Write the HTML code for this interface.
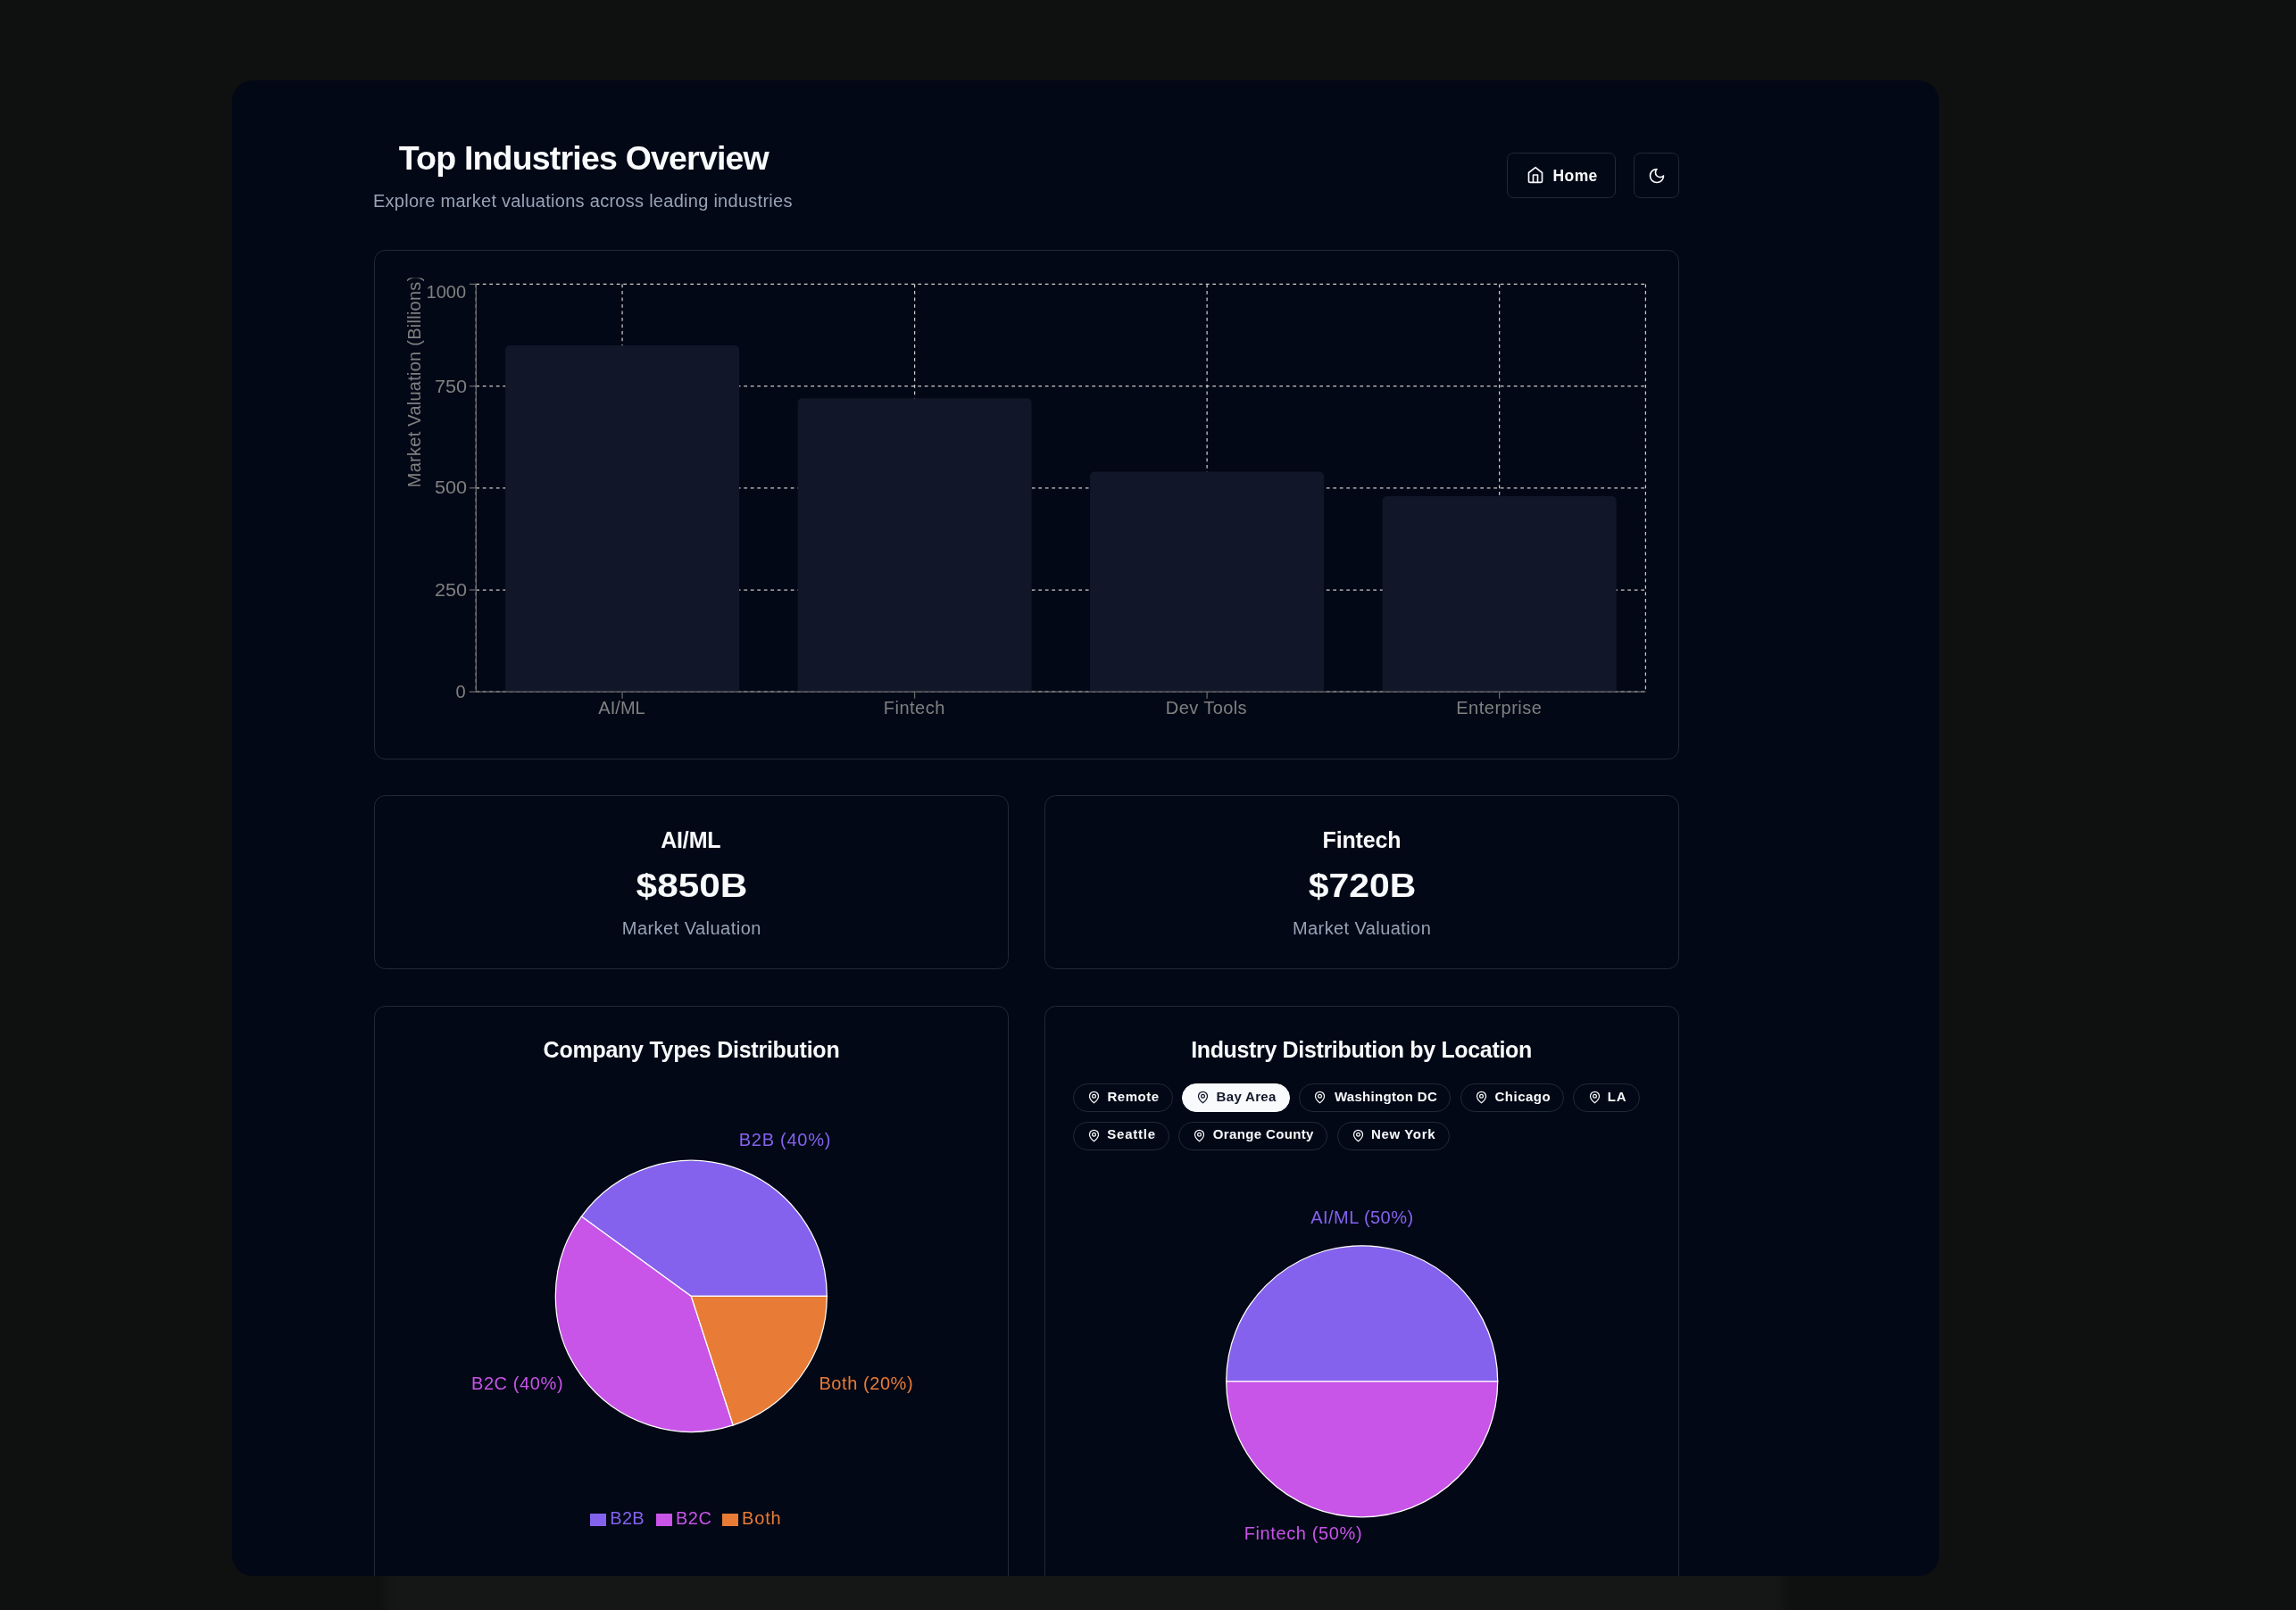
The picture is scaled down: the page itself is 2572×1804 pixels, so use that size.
<!DOCTYPE html>
<html><head><meta charset="utf-8"><title>Top Industries Overview</title>
<style>
html,body{margin:0;padding:0}
body{width:2572px;height:1804px;overflow:hidden;position:relative;background:#0f1110;font-family:"Liberation Sans",sans-serif}
#win{position:absolute;left:260px;top:90px;width:1912px;height:1676px;border-radius:23px;background:#030816;overflow:hidden}
#stage{position:absolute;left:-260px;top:-90px;width:2572px;height:1804px;will-change:transform}
.t{position:absolute;white-space:nowrap;line-height:1}
.card{position:absolute;box-sizing:border-box;border:1.25px solid #20293a;border-radius:12.5px;background:#030816}
.btn{position:absolute;box-sizing:border-box;border:1.25px solid #20293a;border-radius:7.5px;background:#030816}
.chip{position:absolute;box-sizing:border-box;height:32px;border:1.25px solid #20293a;border-radius:16px;background:#030816}
.chip.sel{background:#f8fafc;border-color:#f8fafc}
svg{position:absolute;overflow:visible}
#glow{position:absolute;left:432px;top:1750px;width:1566px;height:80px;background:#151716;filter:blur(5px)}
</style></head><body>
<div id="glow"></div>
<div id="win"><div id="stage">

<div class="t" id="title" style="left:446.80px;top:158.86px;font-size:37.5px;font-weight:700;color:#f8fafc;letter-spacing:-0.809px;">Top Industries Overview</div>
<div class="t" id="sub" style="left:417.90px;top:215.17px;font-size:20px;font-weight:400;color:#97a3b6;letter-spacing:0.276px;">Explore market valuations across leading industries</div>
<div class="btn" style="left:1688px;top:171px;width:122px;height:51px"></div>
<div class="btn" style="left:1830px;top:171px;width:51px;height:51px"></div>
<svg style="left:1709.7px;top:186.2px" width="20" height="20" viewBox="0 0 24 24" fill="none" stroke="#f8fafc" stroke-width="2" stroke-linecap="round" stroke-linejoin="round"><path d="m3 9 9-7 9 7v11a2 2 0 0 1-2 2H5a2 2 0 0 1-2-2z"/><polyline points="9 22 9 12 15 12 15 22"/></svg>
<div class="t" id="home" style="left:1739.50px;top:189.49px;font-size:17.5px;font-weight:700;color:#f8fafc;letter-spacing:0.400px;">Home</div>
<svg style="left:1846px;top:187px" width="20" height="20" viewBox="0 0 24 24" fill="none" stroke="#f8fafc" stroke-width="2" stroke-linecap="round" stroke-linejoin="round"><path d="M12 3a6 6 0 0 0 9 9 9 9 0 1 1-9-9Z"/></svg>
<div class="card" style="left:419px;top:280px;width:1462px;height:571px"></div>
<svg style="left:0;top:0" width="2572" height="1804" viewBox="0 0 2572 1804"><g stroke="#cccccc" stroke-width="1.25" stroke-dasharray="3.75 3.75" fill="none"><line x1="533.3" y1="318.40" x2="1843.4" y2="318.40"/><line x1="533.3" y1="432.60" x2="1843.4" y2="432.60"/><line x1="533.3" y1="546.80" x2="1843.4" y2="546.80"/><line x1="533.3" y1="661.00" x2="1843.4" y2="661.00"/><line x1="533.3" y1="775.20" x2="1843.4" y2="775.20"/><line x1="533.30" y1="318.4" x2="533.30" y2="775.2"/><line x1="697.06" y1="318.4" x2="697.06" y2="775.2"/><line x1="1024.59" y1="318.4" x2="1024.59" y2="775.2"/><line x1="1352.11" y1="318.4" x2="1352.11" y2="775.2"/><line x1="1679.64" y1="318.4" x2="1679.64" y2="775.2"/><line x1="1843.40" y1="318.4" x2="1843.40" y2="775.2"/></g><path d="M566.05,775.2 L566.05,391.92 A5,5 0 0 1 571.05,386.92 L823.07,386.92 A5,5 0 0 1 828.07,391.92 L828.07,775.2 Z" fill="#111729"/><path d="M893.58,775.2 L893.58,451.30 A5,5 0 0 1 898.58,446.30 L1150.60,446.30 A5,5 0 0 1 1155.60,451.30 L1155.60,775.2 Z" fill="#111729"/><path d="M1221.10,775.2 L1221.10,533.53 A5,5 0 0 1 1226.10,528.53 L1478.12,528.53 A5,5 0 0 1 1483.12,533.53 L1483.12,775.2 Z" fill="#111729"/><path d="M1548.63,775.2 L1548.63,560.94 A5,5 0 0 1 1553.63,555.94 L1805.65,555.94 A5,5 0 0 1 1810.65,560.94 L1810.65,775.2 Z" fill="#111729"/><g stroke="#6a6a6a" stroke-width="1.25" fill="none"><line x1="533.3" y1="775.2" x2="1843.4" y2="775.2"/><line x1="533.3" y1="318.4" x2="533.3" y2="775.2"/><line x1="525.8" y1="318.40" x2="533.3" y2="318.40"/><line x1="525.8" y1="432.60" x2="533.3" y2="432.60"/><line x1="525.8" y1="546.80" x2="533.3" y2="546.80"/><line x1="525.8" y1="661.00" x2="533.3" y2="661.00"/><line x1="525.8" y1="775.20" x2="533.3" y2="775.20"/><line x1="697.06" y1="775.2" x2="697.06" y2="782.7"/><line x1="1024.59" y1="775.2" x2="1024.59" y2="782.7"/><line x1="1352.11" y1="775.2" x2="1352.11" y2="782.7"/><line x1="1679.64" y1="775.2" x2="1679.64" y2="782.7"/></g></svg>
<div class="t" id="yt0" style="left:522.10px;transform-origin:100% 50%;transform:translateX(-100%);top:316.67px;font-size:20px;font-weight:400;color:#808080;letter-spacing:0.000px;">1000</div>
<div class="t" id="yt1" style="left:522.50px;transform-origin:100% 50%;transform:translateX(-100%) scaleX(1.08);top:422.67px;font-size:20px;font-weight:400;color:#808080;letter-spacing:0.000px;">750</div>
<div class="t" id="yt2" style="left:522.50px;transform-origin:100% 50%;transform:translateX(-100%) scaleX(1.08);top:536.27px;font-size:20px;font-weight:400;color:#808080;letter-spacing:0.000px;">500</div>
<div class="t" id="yt3" style="left:522.50px;transform-origin:100% 50%;transform:translateX(-100%) scaleX(1.08);top:650.87px;font-size:20px;font-weight:400;color:#808080;letter-spacing:0.000px;">250</div>
<div class="t" id="yt4" style="left:521.50px;transform-origin:100% 50%;transform:translateX(-100%);top:765.47px;font-size:20px;font-weight:400;color:#808080;letter-spacing:0.000px;">0</div>
<div class="t" id="xt0" style="left:696.56px;transform:translateX(-50%);top:782.67px;font-size:20px;font-weight:400;color:#808080;letter-spacing:0.050px;">AI/ML</div>
<div class="t" id="xt1" style="left:1024.29px;transform:translateX(-50%);top:782.67px;font-size:20px;font-weight:400;color:#808080;letter-spacing:0.500px;">Fintech</div>
<div class="t" id="xt2" style="left:1351.41px;transform:translateX(-50%);top:782.67px;font-size:20px;font-weight:400;color:#808080;letter-spacing:0.426px;">Dev Tools</div>
<div class="t" id="xt3" style="left:1679.34px;transform:translateX(-50%);top:782.67px;font-size:20px;font-weight:400;color:#808080;letter-spacing:0.511px;">Enterprise</div>
<svg style="left:0;top:0" width="2572" height="1804"><defs><clipPath id="ycl"><rect x="440" y="311.5" width="60" height="300"/></clipPath></defs><g clip-path="url(#ycl)"><text id="ylab" transform="translate(470.7,546.2) rotate(-90)" font-size="20" fill="#808080" letter-spacing="0.256" font-family="Liberation Sans, sans-serif">Market Valuation (Billions)</text></g></svg>
<div class="card" style="left:419px;top:891px;width:711px;height:195px"></div>
<div class="card" style="left:1170px;top:891px;width:711px;height:195px"></div>
<div class="t" id="s1a" style="left:773.80px;transform:translateX(-50%);top:929.24px;font-size:25px;font-weight:700;color:#f8fafc;letter-spacing:-0.150px;">AI/ML</div>
<div class="t" id="s1b" style="left:775.20px;transform:translateX(-50%) scaleX(1.13);top:973.56px;font-size:37.5px;font-weight:700;color:#f8fafc;letter-spacing:0.000px;">$850B</div>
<div class="t" id="s1c" style="left:774.80px;transform:translateX(-50%);top:1030.47px;font-size:20px;font-weight:400;color:#97a3b6;letter-spacing:0.467px;">Market Valuation</div>
<div class="t" id="s2a" style="left:1525.40px;transform:translateX(-50%);top:929.24px;font-size:25px;font-weight:700;color:#f8fafc;letter-spacing:-0.167px;">Fintech</div>
<div class="t" id="s2b" style="left:1526.45px;transform:translateX(-50%) scaleX(1.092);top:973.56px;font-size:37.5px;font-weight:700;color:#f8fafc;letter-spacing:0.000px;">$720B</div>
<div class="t" id="s2c" style="left:1525.60px;transform:translateX(-50%);top:1030.47px;font-size:20px;font-weight:400;color:#97a3b6;letter-spacing:0.413px;">Market Valuation</div>
<div class="card" style="left:419px;top:1127px;width:711px;height:773px"></div>
<div class="card" style="left:1170px;top:1127px;width:711px;height:773px"></div>
<div class="t" id="c1t" style="left:774.50px;transform:translateX(-50%);top:1164.04px;font-size:25px;font-weight:700;color:#f8fafc;letter-spacing:-0.256px;">Company Types Distribution</div>
<div class="t" id="c2t" style="left:1525.00px;transform:translateX(-50%);top:1164.04px;font-size:25px;font-weight:700;color:#f8fafc;letter-spacing:-0.344px;">Industry Distribution by Location</div>
<svg style="left:0;top:0" width="2572" height="1804"><g stroke="#ffffff" stroke-width="1.25" stroke-linejoin="miter"><path d="M926.30,1452.40 A152,152 0 0 0 651.33,1363.06 L774.3,1452.4 Z" fill="#8462ed"/><path d="M651.33,1363.06 A152,152 0 0 0 821.27,1596.96 L774.3,1452.4 Z" fill="#c854e8"/><path d="M821.27,1596.96 A152,152 0 0 0 926.30,1452.40 L774.3,1452.4 Z" fill="#e87b35"/></g></svg>
<div class="t" id="p1a" style="left:827.80px;top:1267.27px;font-size:20px;font-weight:400;color:#8462ed;letter-spacing:0.724px;">B2B (40%)</div>
<div class="t" id="p1b" style="left:631.20px;transform-origin:100% 50%;transform:translateX(-100%);top:1540.47px;font-size:20px;font-weight:400;color:#c854e8;letter-spacing:0.601px;">B2C (40%)</div>
<div class="t" id="p1c" style="left:917.40px;top:1540.47px;font-size:20px;font-weight:400;color:#e87b35;letter-spacing:0.578px;">Both (20%)</div>
<div style="position:absolute;left:660.9px;top:1696.4px;width:18px;height:13.3px;background:#8462ed"></div>
<div class="t" id="lg0" style="left:683.30px;top:1691.37px;font-size:20px;font-weight:400;color:#8462ed;letter-spacing:0.300px;">B2B</div>
<div style="position:absolute;left:734.6px;top:1696.4px;width:18px;height:13.3px;background:#c854e8"></div>
<div class="t" id="lg1" style="left:757.00px;top:1691.37px;font-size:20px;font-weight:400;color:#c854e8;letter-spacing:0.500px;">B2C</div>
<div style="position:absolute;left:809.1px;top:1696.4px;width:18px;height:13.3px;background:#e87b35"></div>
<div class="t" id="lg2" style="left:831.10px;top:1691.37px;font-size:20px;font-weight:400;color:#e87b35;letter-spacing:0.800px;">Both</div>
<svg style="left:0;top:0" width="2572" height="1804"><g stroke="#ffffff" stroke-width="1.25" stroke-linejoin="miter"><path d="M1677.70,1547.80 A152,152 0 0 0 1373.70,1547.80 L1525.7,1547.8 Z" fill="#8462ed"/><path d="M1373.70,1547.80 A152,152 0 0 0 1677.70,1547.80 L1525.7,1547.8 Z" fill="#c854e8"/></g></svg>
<div class="t" id="p2a" style="left:1525.90px;transform:translateX(-50%);top:1353.67px;font-size:20px;font-weight:400;color:#8462ed;letter-spacing:0.440px;">AI/ML (50%)</div>
<div class="t" id="p2b" style="left:1526.20px;transform-origin:100% 50%;transform:translateX(-100%);top:1708.37px;font-size:20px;font-weight:400;color:#c854e8;letter-spacing:0.617px;">Fintech (50%)</div>
<div class="chip" style="left:1201.8px;top:1214.1px;width:112.1px"></div>
<svg style="left:1218.0px;top:1222.2px" width="15" height="15" viewBox="0 0 24 24" fill="none" stroke="#f8fafc" stroke-width="2" stroke-linecap="round" stroke-linejoin="round"><path d="M20 10c0 6-8 12-8 12s-8-6-8-12a8 8 0 0 1 16 0Z"/><circle cx="12" cy="10" r="3"/></svg>
<div class="t" id="ch0" style="left:1240.40px;top:1220.60px;font-size:15px;font-weight:700;color:#f8fafc;letter-spacing:0.560px;">Remote</div>
<div class="chip sel" style="left:1324.1px;top:1214.1px;width:121.1px"></div>
<svg style="left:1340.3px;top:1222.2px" width="15" height="15" viewBox="0 0 24 24" fill="none" stroke="#111729" stroke-width="2" stroke-linecap="round" stroke-linejoin="round"><path d="M20 10c0 6-8 12-8 12s-8-6-8-12a8 8 0 0 1 16 0Z"/><circle cx="12" cy="10" r="3"/></svg>
<div class="t" id="ch1" style="left:1362.60px;top:1220.60px;font-size:15px;font-weight:700;color:#111729;letter-spacing:0.315px;">Bay Area</div>
<div class="chip" style="left:1455.2px;top:1214.1px;width:170.2px"></div>
<svg style="left:1471.4px;top:1222.2px" width="15" height="15" viewBox="0 0 24 24" fill="none" stroke="#f8fafc" stroke-width="2" stroke-linecap="round" stroke-linejoin="round"><path d="M20 10c0 6-8 12-8 12s-8-6-8-12a8 8 0 0 1 16 0Z"/><circle cx="12" cy="10" r="3"/></svg>
<div class="t" id="ch2" style="left:1494.90px;top:1220.60px;font-size:15px;font-weight:700;color:#f8fafc;letter-spacing:0.316px;">Washington DC</div>
<div class="chip" style="left:1635.7px;top:1214.1px;width:116.4px"></div>
<svg style="left:1651.9px;top:1222.2px" width="15" height="15" viewBox="0 0 24 24" fill="none" stroke="#f8fafc" stroke-width="2" stroke-linecap="round" stroke-linejoin="round"><path d="M20 10c0 6-8 12-8 12s-8-6-8-12a8 8 0 0 1 16 0Z"/><circle cx="12" cy="10" r="3"/></svg>
<div class="t" id="ch3" style="left:1674.50px;top:1220.60px;font-size:15px;font-weight:700;color:#f8fafc;letter-spacing:0.500px;">Chicago</div>
<div class="chip" style="left:1762.4px;top:1214.1px;width:74.4px"></div>
<svg style="left:1778.6px;top:1222.2px" width="15" height="15" viewBox="0 0 24 24" fill="none" stroke="#f8fafc" stroke-width="2" stroke-linecap="round" stroke-linejoin="round"><path d="M20 10c0 6-8 12-8 12s-8-6-8-12a8 8 0 0 1 16 0Z"/><circle cx="12" cy="10" r="3"/></svg>
<div class="t" id="ch4" style="left:1800.70px;top:1220.60px;font-size:15px;font-weight:700;color:#f8fafc;letter-spacing:1.000px;">LA</div>
<div class="chip" style="left:1201.8px;top:1256.5px;width:108.1px"></div>
<svg style="left:1218.0px;top:1264.6px" width="15" height="15" viewBox="0 0 24 24" fill="none" stroke="#f8fafc" stroke-width="2" stroke-linecap="round" stroke-linejoin="round"><path d="M20 10c0 6-8 12-8 12s-8-6-8-12a8 8 0 0 1 16 0Z"/><circle cx="12" cy="10" r="3"/></svg>
<div class="t" id="ch5" style="left:1240.30px;top:1263.00px;font-size:15px;font-weight:700;color:#f8fafc;letter-spacing:0.767px;">Seattle</div>
<div class="chip" style="left:1320.2px;top:1256.5px;width:167.3px"></div>
<svg style="left:1336.4px;top:1264.6px" width="15" height="15" viewBox="0 0 24 24" fill="none" stroke="#f8fafc" stroke-width="2" stroke-linecap="round" stroke-linejoin="round"><path d="M20 10c0 6-8 12-8 12s-8-6-8-12a8 8 0 0 1 16 0Z"/><circle cx="12" cy="10" r="3"/></svg>
<div class="t" id="ch6" style="left:1358.70px;top:1263.00px;font-size:15px;font-weight:700;color:#f8fafc;letter-spacing:0.367px;">Orange County</div>
<div class="chip" style="left:1497.8px;top:1256.5px;width:126.0px"></div>
<svg style="left:1514.0px;top:1264.6px" width="15" height="15" viewBox="0 0 24 24" fill="none" stroke="#f8fafc" stroke-width="2" stroke-linecap="round" stroke-linejoin="round"><path d="M20 10c0 6-8 12-8 12s-8-6-8-12a8 8 0 0 1 16 0Z"/><circle cx="12" cy="10" r="3"/></svg>
<div class="t" id="ch7" style="left:1536.10px;top:1263.00px;font-size:15px;font-weight:700;color:#f8fafc;letter-spacing:0.629px;">New York</div>
</div></div></body></html>
